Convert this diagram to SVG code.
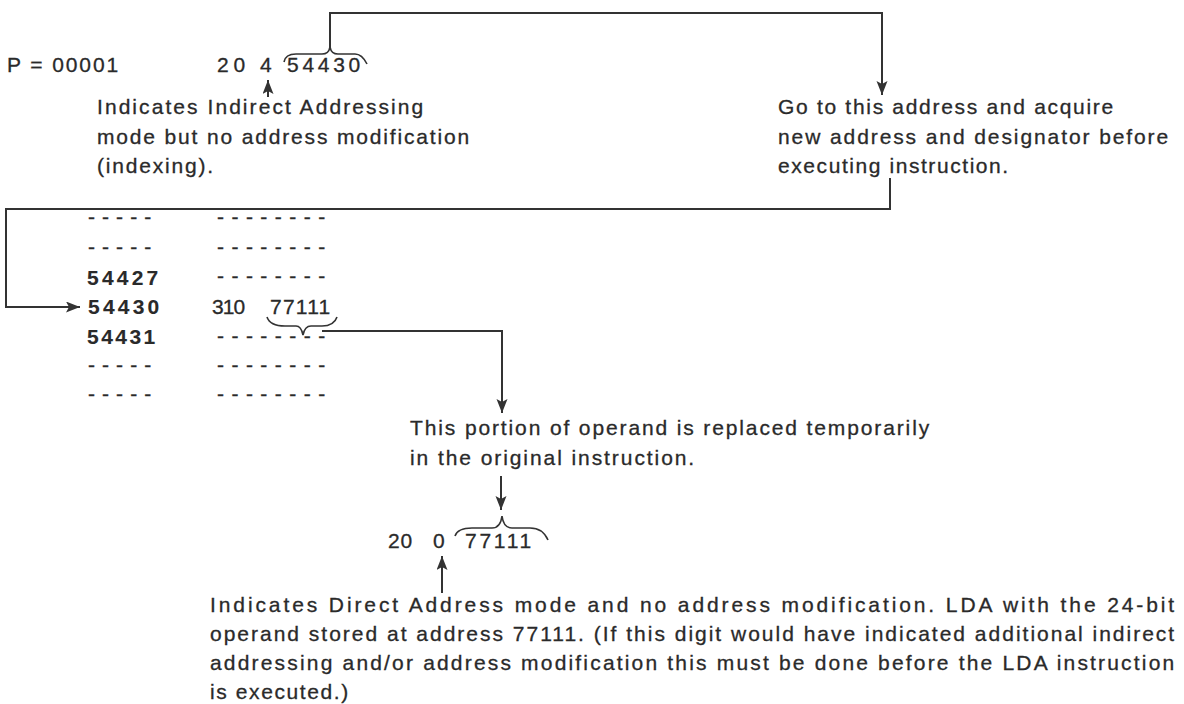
<svg xmlns="http://www.w3.org/2000/svg" width="1184" height="704" viewBox="0 0 1184 704">
<defs>
<style>
.t{font-family:"Liberation Sans",Arial,sans-serif;font-size:21px;fill:#2a2a2a;stroke:#2a2a2a;stroke-width:0.3px;letter-spacing:1.8px}
.b{font-weight:bold;stroke-width:0.1px}
.ln{fill:none;stroke:#333;stroke-width:2}
.br{fill:none;stroke:#333;stroke-width:1.6}
</style>
<marker id="ah" markerUnits="userSpaceOnUse" markerWidth="16" markerHeight="12" refX="14" refY="5.5" orient="auto">
<path d="M0,0 L14,5.5 L0,11 L3,5.5 z" fill="#333"/>
</marker>
</defs>
<rect width="1184" height="704" fill="#fff"/>

<g id="instr1">
<text class="t" x="7" y="72" textLength="113" lengthAdjust="spacing">P = 00001</text>
<text class="t" x="217" y="72" textLength="30" lengthAdjust="spacing">20</text>
<text class="t" x="260" y="72">4</text>
<text class="t" x="287" y="72" textLength="75" lengthAdjust="spacing">54430</text>
<path class="br" d="M284,62 C285,56 289,54 296,54 L322,54 C327,54 329,52 330,47 C331,52 333,54 338,54 L355,54 C361,54 364,58 367,64"/>
</g>

<g id="note1">
<text class="t" x="97" y="114" textLength="328" lengthAdjust="spacing">Indicates Indirect Addressing</text>
<text class="t" x="97" y="144" textLength="374" lengthAdjust="spacing">mode but no address modification</text>
<text class="t" x="97" y="173" textLength="118" lengthAdjust="spacing">(indexing).</text>
</g>

<g id="note2">
<text class="t" x="778" y="114" textLength="337" lengthAdjust="spacing">Go to this address and acquire</text>
<text class="t" x="778" y="144" textLength="392" lengthAdjust="spacing">new address and designator before</text>
<text class="t" x="778" y="173" textLength="232" lengthAdjust="spacing">executing instruction.</text>
</g>

<g id="memory">
<text class="t" x="88" y="224" textLength="65" lengthAdjust="spacing">- - - - -</text>
<text class="t" x="88" y="254" textLength="65" lengthAdjust="spacing">- - - - -</text>
<text class="t b" x="87" y="285" textLength="73" lengthAdjust="spacing">54427</text>
<text class="t b" x="88" y="314" textLength="73" lengthAdjust="spacing">54430</text>
<text class="t b" x="87" y="344" textLength="70" lengthAdjust="spacing">54431</text>
<text class="t" x="88" y="372" textLength="65" lengthAdjust="spacing">- - - - -</text>
<text class="t" x="88" y="401" textLength="65" lengthAdjust="spacing">- - - - -</text>

<text class="t" x="217" y="224" textLength="110" lengthAdjust="spacing">- - - - - - - -</text>
<text class="t" x="217" y="254" textLength="110" lengthAdjust="spacing">- - - - - - - -</text>
<text class="t" x="217" y="283" textLength="110" lengthAdjust="spacing">- - - - - - - -</text>
<text class="t" x="212" y="314" textLength="35" lengthAdjust="spacing">310</text>
<text class="t" x="270" y="314" textLength="62" lengthAdjust="spacing">77111</text>
<text class="t" x="217" y="343" textLength="110" lengthAdjust="spacing">- - - - - - - -</text>
<text class="t" x="217" y="372" textLength="110" lengthAdjust="spacing">- - - - - - - -</text>
<text class="t" x="217" y="401" textLength="110" lengthAdjust="spacing">- - - - - - - -</text>
<path class="br" d="M267,317 C269,323 276,326 285,326 L296,326 C300,326 302,330 303,335 C304,330 306,326 311,326 L322,326 C331,326 335,323 337,317"/>
</g>

<g id="note3">
<text class="t" x="410" y="435" textLength="521" lengthAdjust="spacing">This portion of operand is replaced temporarily</text>
<text class="t" x="410" y="465" textLength="286" lengthAdjust="spacing">in the original instruction.</text>
</g>

<g id="instr2">
<text class="t" x="388" y="548" textLength="26" lengthAdjust="spacing">20</text>
<text class="t" x="433" y="548">0</text>
<text class="t" x="465" y="548" textLength="68" lengthAdjust="spacing">77111</text>
<path class="br" d="M455,536 C457,530 463,528 472,528 L492,528 C498,528 501,524 502,516 C503,524 506,528 512,528 L530,528 C540,528 545,533 548,540"/>
</g>

<g id="note4">
<text class="t" x="210" y="612" textLength="966" lengthAdjust="spacing">Indicates Direct Address mode and no address modification. LDA with the 24-bit</text>
<text class="t" x="210" y="641" textLength="966" lengthAdjust="spacing">operand stored at address 77111. (If this digit would have indicated additional indirect</text>
<text class="t" x="210" y="670" textLength="966" lengthAdjust="spacing">addressing and/or address modification this must be done before the LDA instruction</text>
<text class="t" x="210" y="699" textLength="140" lengthAdjust="spacing">is executed.)</text>
</g>

<g id="connectors">
<path class="ln" d="M330,47 V13 H882 V95" marker-end="url(#ah)"/>
<path class="ln" d="M268,97 V80" marker-end="url(#ah)"/>
<path class="ln" d="M890,178 V209 H6 V307 H80" marker-end="url(#ah)"/>
<path class="ln" d="M322,331 H502 V413" marker-end="url(#ah)"/>
<path class="ln" d="M501,476 V510" marker-end="url(#ah)"/>
<path class="ln" d="M442,593 V556" marker-end="url(#ah)"/>
</g>
</svg>
